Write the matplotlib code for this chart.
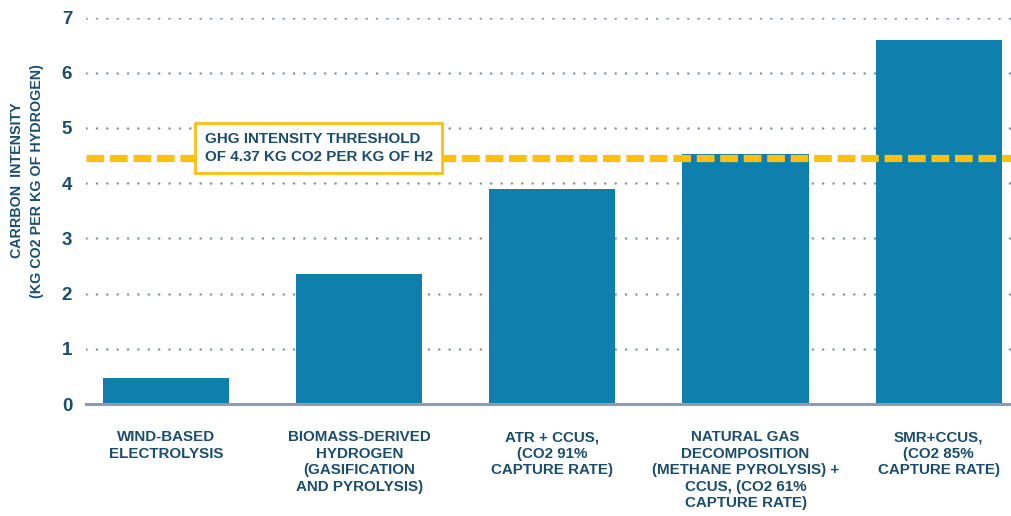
import numpy as np
import matplotlib.pyplot as plt

plt.rcParams['font.family'] = ['Liberation Sans', 'DejaVu Sans']
plt.rcParams['font.weight'] = 'bold'

categories = ['WIND-BASED\nELECTROLYSIS',
              'BIOMASS-DERIVED\nHYDROGEN\n(GASIFICATION\nAND PYROLYSIS)',
              'ATR + CCUS,\n(CO2 91%\nCAPTURE RATE)',
              'NATURAL GAS\nDECOMPOSITION\n(METHANE PYROLYSIS) +\nCCUS, (CO2 61%\nCAPTURE RATE)',
              'SMR+CCUS,\n(CO2 85%\nCAPTURE RATE)']
values = [0.48, 2.36, 3.89, 4.52, 6.59]
threshold = 4.46
yticks = [0, 1, 2, 3, 4, 5, 6, 7]
threshold_text = 'GHG INTENSITY THRESHOLD\nOF 4.37 KG CO2 PER KG OF H2'

navy = '#1b4d6e'
bar_color = '#0f80ad'
yellow = '#fdc010'
grid_color = '#8592aa'

fig = plt.figure(figsize=(10.12, 5.16), dpi=100)
ax = fig.add_axes([0.085, 0.217, 0.915, 0.749])

x = np.arange(len(values))
ax.bar(x, values, width=0.653, color=bar_color, zorder=2)

ax.set_xlim(-0.415, 4.38)
ax.set_ylim(0, 7)
ax.set_yticks(yticks)
ax.set_xticks(x)
ax.set_xticklabels(categories, fontsize=10.9, color=navy, fontweight='bold',
                   linespacing=1.22, va='top')
ax.tick_params(axis='x', length=0, pad=19)
ax.tick_params(axis='y', length=0, pad=10, labelsize=13.5, labelcolor=navy)

for s in ['top', 'right', 'left']:
    ax.spines[s].set_visible(False)
ax.spines['bottom'].set_color('#8e9bb3')
ax.spines['bottom'].set_linewidth(2.2)
ax.spines['bottom'].set_zorder(3)

for t in yticks[1:]:
    ax.axhline(t, color=grid_color, linewidth=1.8, linestyle=(0, (0.05, 4.1)),
               dash_capstyle='round', zorder=1)

ax.axhline(threshold, color=yellow, linewidth=5.2, linestyle=(0, (2.45, 0.8)),
           zorder=4)

ax.text(0.79, 4.64, threshold_text, fontsize=10.9, color=navy, fontweight='bold',
        ha='center', va='center', multialignment='left', linespacing=1.32, zorder=5,
        bbox=dict(boxstyle='square,pad=0.62', facecolor='white', edgecolor=yellow,
                  linewidth=2))

fig.text(0.017, 0.65, 'CARRBON  INTENSITY', rotation=90, fontsize=10.3,
         color=navy, fontweight='bold', ha='center', va='center')
fig.text(0.037, 0.65, '(KG CO2 PER KG OF HYDROGEN)', rotation=90, fontsize=10.3,
         color=navy, fontweight='bold', ha='center', va='center')

fig.savefig('out.png', dpi=100)
